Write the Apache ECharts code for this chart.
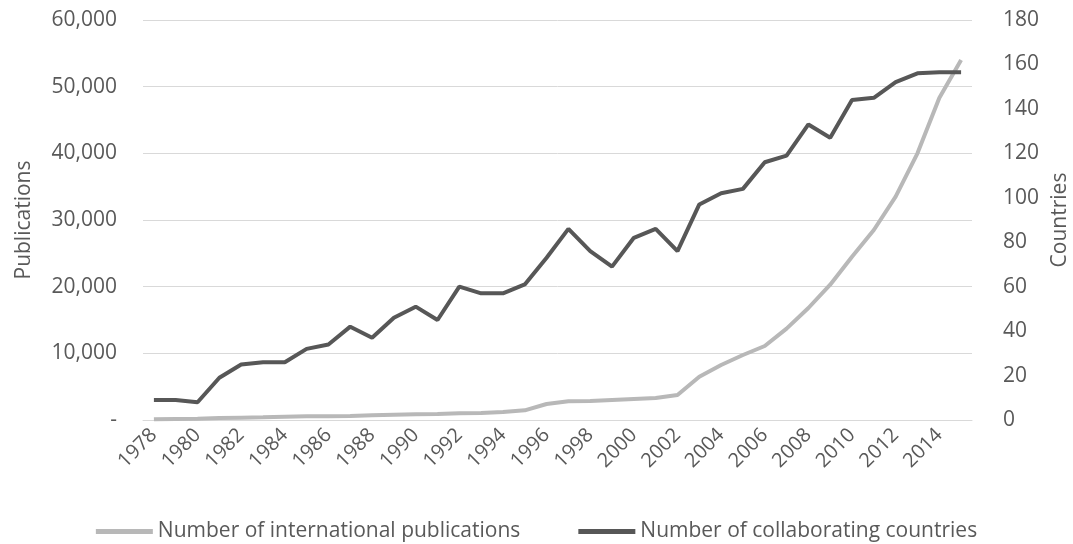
<!DOCTYPE html>
<html>
<head>
<meta charset="utf-8">
<script src="https://cdn.jsdelivr.net/npm/echarts@6/dist/echarts.min.js"></script>
<style>
  html, body { margin: 0; padding: 0; background: #fff; }
  #chart { width: 1073px; height: 544px; }
</style>
</head>
<body>
<div id="chart"></div>
<script>
const years = ['1978', '1979', '1980', '1981', '1982', '1983', '1984', '1985', '1986', '1987',
  '1988', '1989', '1990', '1991', '1992', '1993', '1994', '1995', '1996', '1997',
  '1998', '1999', '2000', '2001', '2002', '2003', '2004', '2005', '2006', '2007',
  '2008', '2009', '2010', '2011', '2012', '2013', '2014', '2015']

// publications (left axis)
const publications = [100, 150, 200, 300, 350, 400, 500, 550, 550, 600,
  700, 800, 850, 900, 1000, 1050, 1200, 1450, 2400, 2800,
  2850, 3000, 3150, 3300, 3750, 6500, 8250, 9750, 11100, 13700,
  16800, 20300, 24500, 28500, 33500, 40000, 48300, 54000]

// collaborating countries (right axis)
const countries = [9, 9, 8, 19, 25, 26, 26, 32, 34, 42,
  37, 46, 51, 45, 60, 57, 57, 61, 73, 86,
  76, 69, 82, 86, 76, 97, 102, 104, 116, 119,
  133, 127, 144, 145, 152, 156, 156.5, 156.5]

const seriesNames = ['Number of international publications', 'Number of collaborating countries']

const chart = echarts.init(document.getElementById('chart'))
const labelFont = 'Open Sans'
chart.setOption({
  animation: false,
  textStyle: { fontFamily: labelFont },
  grid: { left: 143, right: 101, top: 20, bottom: 124, outerBoundsMode: 'none', containLabel: false },
  legend: {
    top: 516,
    left: 'center',
    itemWidth: 57,
    itemHeight: 5,
    itemGap: 58,
    icon: 'rect',
    textStyle: { color: '#595959', fontSize: 21, fontFamily: labelFont },
    data: seriesNames
  },
  xAxis: {
    type: 'category',
    data: years,
    axisLine: { lineStyle: { color: '#d9d9d9' } },
    axisTick: { show: false },
    axisLabel: {
      interval: 1,
      rotate: 45,
      color: '#595959',
      fontSize: 20,
      margin: 12
    }
  },
  yAxis: [
    {
      type: 'value',
      min: 0,
      max: 60000,
      interval: 10000,
      name: 'Publications',
      nameLocation: 'middle',
      nameGap: 108,
      nameTextStyle: { color: '#595959', fontSize: 21 },
      axisLine: { show: false },
      axisTick: { show: false },
      splitLine: { lineStyle: { color: '#d9d9d9' } },
      axisLabel: {
        color: '#595959',
        fontSize: 21,
        margin: 26,
        formatter: function (v) {
          return v === 0 ? '-' : v.toLocaleString('en-US')
        }
      }
    },
    {
      type: 'value',
      min: 0,
      max: 180,
      interval: 20,
      name: 'Countries',
      nameLocation: 'middle',
      nameGap: 78,
      nameTextStyle: { color: '#595959', fontSize: 21 },
      axisLine: { show: false },
      axisTick: { show: false },
      splitLine: { show: false },
      axisLabel: { color: '#595959', fontSize: 21, margin: 31 }
    }
  ],
  series: [
    {
      name: seriesNames[0],
      type: 'line',
      yAxisIndex: 0,
      symbol: 'none',
      lineStyle: { width: 4, color: '#b8b8b8' },
      itemStyle: { color: '#b8b8b8' },
      data: publications
    },
    {
      name: seriesNames[1],
      type: 'line',
      yAxisIndex: 1,
      symbol: 'none',
      lineStyle: { width: 4, color: '#575757' },
      itemStyle: { color: '#575757' },
      data: countries
    }
  ]
})
</script>
</body>
</html>
